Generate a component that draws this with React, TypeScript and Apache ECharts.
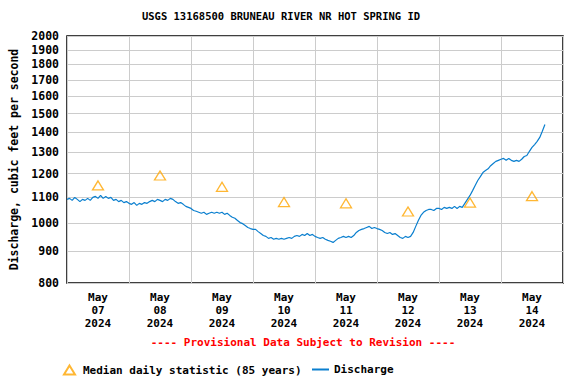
import React, { useEffect, useRef } from 'react';
import * as echarts from 'echarts';

const TITLE = 'USGS 13168500 BRUNEAU RIVER NR HOT SPRING ID';
const Y_NAME = 'Discharge, cubic feet per second';
const PROVISIONAL = '---- Provisional Data Subject to Revision ----';
const MEDIAN_NAME = 'Median daily statistic (85 years)';
const DISCHARGE_NAME = 'Discharge';

const START_DAY = Date.UTC(2024, 4, 7);
const DAY_COUNT = 8;
const DAY_LABELS = ['07', '08', '09', '10', '11', '12', '13', '14'];
const MONTH_LABEL = 'May';
const YEAR_LABEL = '2024';

const yTickValues = [800, 900, 1000, 1100, 1200, 1300, 1400, 1500, 1600, 1700, 1800, 1900, 2000];

// Median daily statistic (85 years), plotted at noon of each day
const medianValues = [1149, 1192, 1143, 1080, 1075, 1043, 1078, 1104];

// Hourly discharge readings, cfs
const may07 = [1091, 1095, 1087, 1099, 1091, 1082, 1091, 1087, 1095, 1087, 1099, 1103, 1095, 1107, 1095, 1103, 1095, 1099, 1087, 1091, 1082, 1087, 1078, 1082];
const may08 = [1075, 1071, 1078, 1067, 1075, 1071, 1078, 1075, 1082, 1087, 1082, 1091, 1087, 1082, 1091, 1087, 1095, 1091, 1082, 1075, 1078, 1071, 1063, 1059];
const may09 = [1055, 1047, 1044, 1040, 1036, 1040, 1032, 1036, 1040, 1036, 1040, 1036, 1040, 1032, 1036, 1028, 1021, 1017, 1009, 1001, 997, 990, 983, 979];
const may10 = [976, 976, 968, 961, 954, 951, 944, 947, 941, 944, 941, 944, 941, 944, 947, 944, 951, 954, 951, 958, 954, 961, 954, 958];
const may11 = [951, 947, 944, 947, 941, 937, 934, 930, 937, 944, 947, 951, 947, 951, 947, 954, 965, 972, 976, 979, 983, 987, 979, 983];
const may12 = [979, 976, 972, 965, 961, 965, 958, 961, 954, 947, 944, 951, 947, 951, 965, 987, 1009, 1028, 1040, 1047, 1051, 1051, 1047, 1055];
const may13 = [1055, 1051, 1059, 1055, 1059, 1055, 1063, 1055, 1063, 1059, 1075, 1091, 1107, 1127, 1149, 1170, 1187, 1205, 1214, 1222, 1236, 1246, 1256, 1261];
const may14 = [1266, 1270, 1261, 1270, 1261, 1256, 1261, 1256, 1266, 1279, 1284, 1304, 1323, 1337, 1353, 1373, 1405, 1440];

const HOUR = 3600 * 1000;
const DAY = 24 * HOUR;
const FONT = '"DejaVu Sans Mono", monospace';

export default function App() {
  const ref = useRef<HTMLDivElement>(null);

  useEffect(() => {
    if (!ref.current) return;
    const chart = echarts.init(ref.current, undefined, { renderer: 'svg' });

    const discharge = [...may07, ...may08, ...may09, ...may10, ...may11, ...may12, ...may13, ...may14];
    const dischargeData = discharge.map((v, i) => [START_DAY + i * HOUR, Math.log10(v)]);
    const medianData = medianValues.map((v, i) => [START_DAY + i * DAY + 12 * HOUR, Math.log10(v)]);

    const midnights = Array.from({ length: DAY_COUNT + 1 }, (_, i) => START_DAY + i * DAY);
    const noons = DAY_LABELS.map((_, i) => START_DAY + i * DAY + 12 * HOUR);
    const yLogTicks = yTickValues.map((v) => Math.log10(v));
    const legendText = { fontFamily: FONT, fontWeight: 'bold', fontSize: 11, color: '#000000' };

    chart.setOption({
      animation: false,
      backgroundColor: '#ffffff',
      textStyle: { fontFamily: FONT },
      grid: {
        left: 67,
        right: 22,
        top: 36,
        bottom: 95,
        show: true,
        borderColor: '#000000',
        borderWidth: 1.5,
        backgroundColor: 'transparent',
        containLabel: false,
        outerBoundsMode: 'none',
      },
      graphic: [
        {
          type: 'text',
          x: 281,
          y: 16,
          style: {
            text: TITLE,
            fill: '#000000',
            font: `bold 10.5px ${FONT}`,
            textAlign: 'center',
            textVerticalAlign: 'middle',
          },
        },
        {
          type: 'text',
          x: 303,
          y: 342,
          style: {
            text: PROVISIONAL,
            fill: '#ff0000',
            font: `bold 11px ${FONT}`,
            textAlign: 'center',
            textVerticalAlign: 'middle',
          },
        },
      ],
      legend: [
        {
          left: 63,
          top: 364.5,
          padding: 0,
          itemWidth: 11,
          itemHeight: 9,
          itemGap: 0,
          textStyle: { ...legendText, padding: [0, 0, 0, 3] },
          data: [{ name: MEDIAN_NAME }],
        },
        {
          left: 311,
          top: 364,
          padding: 0,
          itemWidth: 17,
          itemHeight: 10,
          itemGap: 0,
          textStyle: legendText,
          data: [{ name: DISCHARGE_NAME, itemStyle: { opacity: 0, color: 'rgba(0,0,0,0)', borderWidth: 0 } }],
        },
      ],
      xAxis: {
        type: 'value',
        min: START_DAY,
        max: START_DAY + DAY_COUNT * DAY,
        axisLine: { show: false },
        axisTick: { show: false, customValues: midnights },
        splitLine: { show: true, lineStyle: { color: '#cccccc', width: 1 } },
        axisLabel: {
          customValues: noons,
          margin: 8,
          fontFamily: FONT,
          fontWeight: 'bold',
          fontSize: 11,
          lineHeight: 13,
          color: '#000000',
          formatter: (val: number) => {
            const i = Math.round((val - START_DAY - 12 * HOUR) / DAY);
            return `${MONTH_LABEL}\n${DAY_LABELS[i]}\n${YEAR_LABEL}`;
          },
        },
      },
      yAxis: {
        type: 'value',
        min: Math.log10(yTickValues[0]),
        max: Math.log10(yTickValues[yTickValues.length - 1]),
        name: Y_NAME,
        nameLocation: 'middle',
        nameRotate: 90,
        nameGap: 46,
        nameTextStyle: { fontFamily: FONT, fontWeight: 'bold', fontSize: 11.5, color: '#000000' },
        axisLine: { show: false },
        axisTick: { show: false, customValues: yLogTicks },
        splitLine: { show: true, lineStyle: { color: '#cccccc', width: 1 } },
        axisLabel: {
          customValues: yLogTicks,
          margin: 8,
          fontFamily: FONT,
          fontWeight: 'bold',
          fontSize: 11.5,
          color: '#000000',
          formatter: (val: number) => String(Math.round(Math.pow(10, val))),
        },
      },
      series: [
        {
          name: MEDIAN_NAME,
          type: 'scatter',
          symbol: 'triangle',
          symbolSize: [11, 9],
          itemStyle: { color: 'rgba(255,255,255,0)', borderColor: '#ffa500', borderWidth: 1.3 },
          data: medianData,
          z: 3,
        },
        {
          name: DISCHARGE_NAME,
          type: 'line',
          symbol: 'none',
          showSymbol: false,
          lineStyle: { color: '#0a7fcf', width: 1.2 },
          itemStyle: { color: '#0a7fcf' },
          data: dischargeData,
          z: 2,
        },
      ],
    });

    return () => chart.dispose();
  }, []);

  return (
    <div
      ref={ref}
      style={{ position: 'fixed', left: 0, top: 0, width: 585, height: 378, background: '#ffffff' }}
    />
  );
}
